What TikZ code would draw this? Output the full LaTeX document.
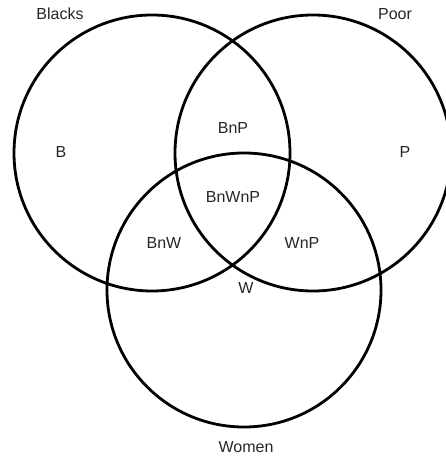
\documentclass[tikz,border=0pt]{standalone}
\usepackage{fontspec}
\setmainfont{Liberation Sans}
\begin{document}
\begin{tikzpicture}[x=1pt,y=-1pt,
  ring/.style={draw=black,line width=2.8pt},
  lbl/.style={font=\fontsize{16}{19}\selectfont,text=black!85,inner sep=0pt}]
\useasboundingbox (0,0) rectangle (445,457);
\draw[ring] (152,153) circle[radius=138];
\draw[ring] (313,153) circle[radius=138];
\draw[ring] (244,290) circle[radius=137];
\node[lbl] (blacks) at (60,14) {Blacks};
\node[lbl] (poor) at (395,14) {Poor};
\node[lbl] (b) at (61,152) {B};
\node[lbl] (p) at (405,152) {P};
\node[lbl] (bnp) at (233,128) {BnP};
\node[lbl] (bnwnp) at (233,197) {BnWnP};
\node[lbl] (bnw) at (164,243) {BnW};
\node[lbl] (wnp) at (302,243) {WnP};
\node[lbl] (w) at (246,288) {W};
\node[lbl] (women) at (246,447) {Women};
\end{tikzpicture}
\end{document}
